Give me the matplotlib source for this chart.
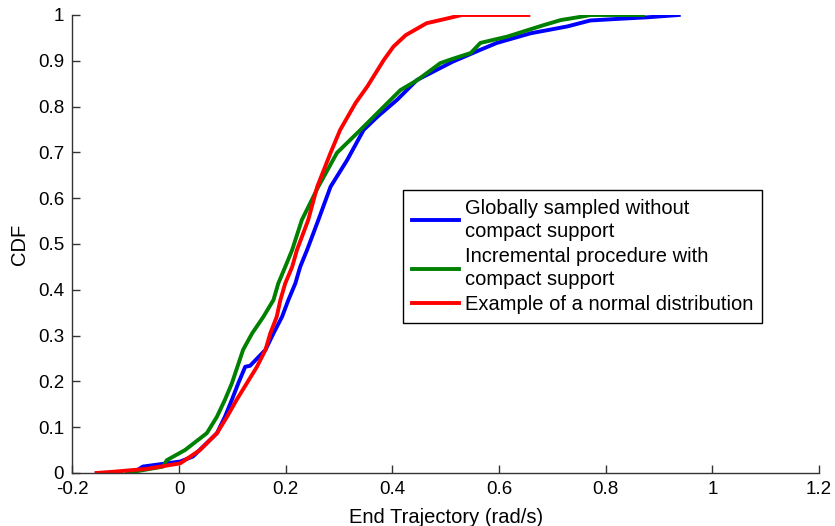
import matplotlib
matplotlib.use("Agg")
import matplotlib.pyplot as plt
from matplotlib.ticker import FuncFormatter

plt.rcParams['font.family'] = ['Liberation Sans', 'DejaVu Sans']

# CDF levels and the x value (rad/s) at that level
blue_cdf = [0.0, 0.005, 0.014, 0.025, 0.036, 0.087, 0.123, 0.16, 0.196, 0.232, 0.234,
            0.269, 0.305, 0.341, 0.378, 0.414, 0.45, 0.487, 0.552, 0.625, 0.683, 0.749,
            0.778, 0.815, 0.858, 0.898, 0.924, 0.939, 0.96, 0.975, 0.988, 0.991, 0.995, 1.0]
blue_x = [-0.09, -0.08, -0.068, 0.002, 0.026, 0.071, 0.086, 0.099, 0.111, 0.124, 0.133,
          0.162, 0.177, 0.193, 0.205, 0.218, 0.227, 0.24, 0.261, 0.284, 0.315, 0.346,
          0.372, 0.409, 0.446, 0.513, 0.565, 0.596, 0.659, 0.728, 0.771, 0.815, 0.879, 0.937]

green_cdf = [0.0, 0.014, 0.028, 0.05, 0.087, 0.123, 0.16, 0.196, 0.269, 0.305, 0.341,
             0.378, 0.414, 0.45, 0.487, 0.552, 0.625, 0.699, 0.749, 0.771, 0.793, 0.836,
             0.858, 0.895, 0.905, 0.917, 0.939, 0.953, 0.967, 0.978, 0.989, 0.996, 1.0, 1.0]
green_x = [-0.098, -0.03, -0.023, 0.011, 0.052, 0.071, 0.086, 0.099, 0.12, 0.137, 0.158,
           0.177, 0.186, 0.199, 0.212, 0.23, 0.261, 0.296, 0.34, 0.359, 0.378, 0.415,
           0.447, 0.49, 0.515, 0.547, 0.565, 0.616, 0.654, 0.684, 0.716, 0.753, 0.772, 0.87]

red_cdf = [0.0, 0.003, 0.009, 0.021, 0.05, 0.087, 0.123, 0.16, 0.196, 0.232, 0.269,
           0.305, 0.341, 0.378, 0.414, 0.45, 0.487, 0.552, 0.625, 0.699, 0.749, 0.808,
           0.844, 0.902, 0.931, 0.956, 0.982, 0.993, 1.0, 1.0]
red_x = [-0.155, -0.12, -0.061, 0.002, 0.039, 0.071, 0.09, 0.108, 0.127, 0.146, 0.162,
         0.171, 0.183, 0.19, 0.199, 0.212, 0.221, 0.242, 0.259, 0.284, 0.302, 0.331,
         0.353, 0.384, 0.402, 0.425, 0.464, 0.505, 0.53, 0.655]

labels = ["Globally sampled without\ncompact support",
          "Incremental procedure with\ncompact support",
          "Example of a normal distribution"]

fig = plt.figure(figsize=(8.35, 5.26), dpi=100)
ax = fig.add_axes([0.0868, 0.1008, 0.894, 0.8707])

ax.plot(blue_x, blue_cdf, color=(0, 0, 1), lw=2.8, label=labels[0])
ax.plot(green_x, green_cdf, color=(0, 0.5, 0), lw=2.8, label=labels[1])
ax.plot(red_x, red_cdf, color=(1, 0, 0), lw=2.8, label=labels[2])

ax.set_xlim(-0.2, 1.2)
ax.set_ylim(0, 1)
ax.set_xticks([-0.2, 0, 0.2, 0.4, 0.6, 0.8, 1.0, 1.2])
ax.set_yticks([i / 10 for i in range(11)])
fmt = FuncFormatter(lambda v, p: "%g" % round(v, 2))
ax.xaxis.set_major_formatter(fmt)
ax.yaxis.set_major_formatter(fmt)

ax.spines['top'].set_visible(False)
ax.spines['right'].set_visible(False)
for s in ['left', 'bottom']:
    ax.spines[s].set_color('#333333')
    ax.spines[s].set_linewidth(1.0)
ax.tick_params(direction='in', length=6, width=1, color='#333333',
               labelsize=13.5, pad=6)

ax.set_xlabel("End Trajectory (rad/s)", fontsize=14.5)
ax.set_ylabel("CDF", fontsize=14.5)
ax.xaxis.set_label_coords(0.5, -0.076)
ax.yaxis.set_label_coords(-0.058, 0.5)

leg = ax.legend(loc='upper left', bbox_to_anchor=(0.443, 0.618), fontsize=14.5,
                fancybox=False, edgecolor='black', framealpha=1,
                handlelength=2.3, handletextpad=0.3, labelspacing=0.32,
                borderpad=0.45, borderaxespad=0)
leg.get_frame().set_linewidth(1.0)
for t in leg.get_texts():
    t.set_linespacing(1.25)

fig.savefig("out.png", dpi=100)
